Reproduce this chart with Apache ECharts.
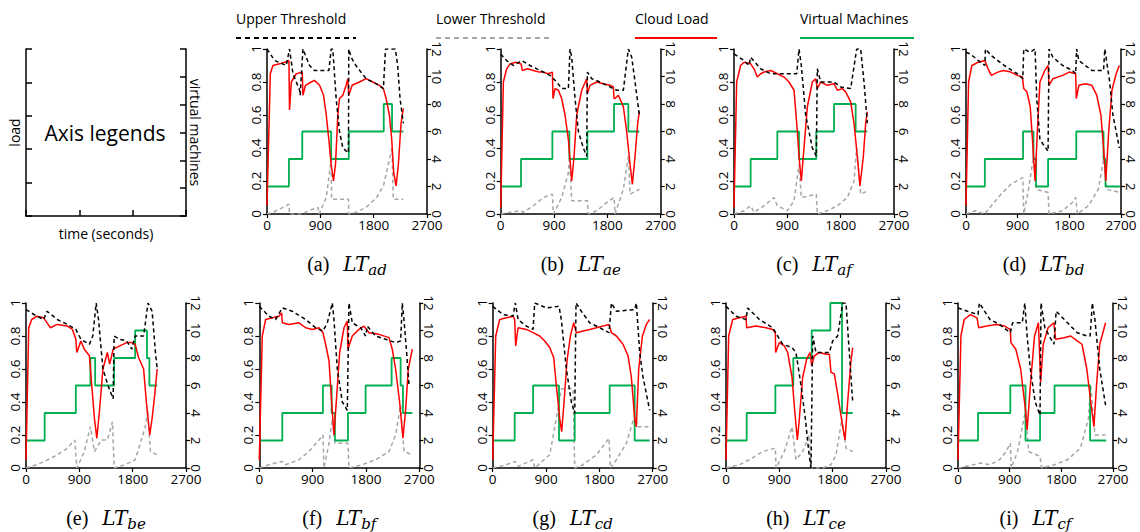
<!DOCTYPE html>
<html>
<head>
<meta charset="utf-8">
<script src="https://cdn.jsdelivr.net/npm/echarts@6/dist/echarts.min.js"></script>
<style>
  html, body { margin: 0; background: #fff; }
  #chart { width: 1140px; height: 532px; }
</style>
</head>
<body>
<div id="chart"></div>
<script>
// time (s) / value pairs; load and thresholds on 0..1, vms on 0..12
const loadAD = [[0,0.05],[56,0.85],[100,0.9],[210,0.91],[300,0.92],[370,0.93],[380,0.63],[410,0.8],[494,0.85],[595,0.86],[606,0.72],[650,0.78],[746,0.8],[800,0.81],[887,0.78],[954,0.72],[1000,0.6],[1044,0.45],[1083,0.3],[1122,0.2],[1156,0.3],[1195,0.6],[1223,0.7],[1280,0.72],[1335,0.78],[1364,0.82],[1380,0.72],[1437,0.78],[1560,0.8],[1672,0.82],[1785,0.8],[1897,0.78],[1964,0.76],[2010,0.7],[2065,0.6],[2105,0.45],[2138,0.25],[2178,0.17],[2217,0.3],[2262,0.55],[2300,0.64]];
const upperAD = [[0,1],[130,0.93],[325,0.9],[380,1],[438,0.85],[550,0.75],[560,0.72],[606,1],[718,0.9],[800,0.87],[1044,0.87],[1083,1],[1110,1],[1167,0.7],[1223,0.5],[1280,0.4],[1375,0.37],[1380,1],[1420,0.95],[1500,0.9],[1672,0.82],[1840,0.79],[1964,0.76],[2000,1],[2166,1],[2205,0.9],[2245,0.7],[2300,0.55]];
const lowerAD = [[0,0],[100,0.01],[325,0.05],[370,0.06],[380,0],[600,0],[700,0.02],[860,0.04],[880,0],[1000,0.1],[1083,0.33],[1090,0.09],[1375,0.09],[1380,0],[1500,0.01],[1672,0.04],[1850,0.1],[1964,0.17],[2110,0.4],[2130,0.09],[2300,0.09]];
const vmsAD = [[0,2],[370,4],[595,6],[1083,4],[1380,6],[1970,8],[2110,6],[2300,6]];

const loadAE = [[0,0.04],[45,0.8],[101,0.88],[158,0.91],[250,0.92],[343,0.91],[365,0.87],[450,0.88],[551,0.87],[650,0.86],[720,0.86],[800,0.85],[872,0.86],[883,0.7],[917,0.76],[973,0.75],[1029,0.7],[1086,0.6],[1142,0.45],[1198,0.2],[1238,0.35],[1283,0.6],[1367,0.75],[1451,0.82],[1463,0.73],[1508,0.78],[1620,0.8],[1733,0.79],[1850,0.78],[1901,0.77],[1913,0.7],[1929,0.7],[1986,0.72],[2070,0.65],[2126,0.5],[2183,0.3],[2222,0.18],[2267,0.35],[2312,0.55],[2340,0.62]];
const upperAE = [[0,0.97],[101,0.93],[214,0.9],[354,0.93],[495,0.9],[664,0.87],[833,0.84],[945,0.8],[1029,0.76],[1142,0.76],[1170,1],[1198,0.95],[1254,0.7],[1311,0.5],[1395,0.4],[1451,0.35],[1463,0.86],[1536,0.82],[1676,0.8],[1845,0.77],[1958,0.75],[2070,0.75],[2154,1],[2211,0.95],[2267,0.8],[2340,0.6]];
const lowerAE = [[0,0],[158,0.01],[343,0.02],[380,0.01],[551,0.05],[720,0.1],[872,0.12],[890,0],[1029,0.1],[1142,0.25],[1159,0.35],[1198,0.08],[1463,0.08],[1480,0],[1620,0.02],[1790,0.07],[1913,0.1],[1930,0],[2070,0.15],[2154,0.35],[2183,0.12],[2340,0.15]];
const vmsAE = [[0,2],[343,4],[872,6],[1159,4],[1463,6],[1913,8],[2154,6],[2340,6]];

const loadAF = [[0,0.04],[45,0.8],[112,0.9],[170,0.92],[281,0.91],[338,0.88],[394,0.83],[450,0.85],[506,0.86],[619,0.87],[731,0.85],[844,0.83],[928,0.8],[1013,0.75],[1058,0.55],[1097,0.35],[1136,0.2],[1181,0.4],[1238,0.65],[1322,0.8],[1378,0.82],[1406,0.76],[1463,0.8],[1575,0.78],[1688,0.79],[1744,0.75],[1828,0.76],[1884,0.74],[1969,0.68],[2025,0.55],[2081,0.35],[2126,0.17],[2183,0.35],[2222,0.55],[2250,0.62]];
const upperAF = [[0,0.97],[170,0.93],[253,0.9],[281,0.95],[450,0.88],[619,0.85],[1058,0.85],[1097,1],[1136,0.9],[1209,0.6],[1322,0.4],[1389,0.35],[1406,0.88],[1463,0.8],[1688,0.8],[1800,0.77],[1969,0.76],[2070,1],[2137,1],[2194,0.8],[2250,0.55]];
const lowerAF = [[0,0],[170,0.02],[281,0.05],[338,0.01],[506,0.05],[675,0.1],[731,0.05],[900,0.02],[1013,0.08],[1097,0.3],[1136,0.1],[1389,0.12],[1406,0],[1575,0.02],[1744,0.05],[1913,0.1],[2025,0.2],[2070,0.4],[2137,0.12],[2250,0.14]];
const vmsAF = [[0,2],[281,4],[731,6],[1097,4],[1389,6],[1688,8],[2053,6],[2250,6]];

const loadBD = [[0,0.05],[45,0.8],[102,0.9],[215,0.92],[328,0.93],[384,0.88],[441,0.84],[554,0.86],[650,0.87],[780,0.86],[893,0.84],[983,0.83],[1006,0.76],[1062,0.74],[1119,0.65],[1158,0.45],[1203,0.2],[1243,0.5],[1288,0.8],[1373,0.87],[1430,0.9],[1446,0.78],[1514,0.82],[1684,0.84],[1797,0.86],[1910,0.85],[1921,0.7],[1966,0.78],[2079,0.79],[2192,0.78],[2277,0.72],[2350,0.6],[2396,0.4],[2435,0.2],[2486,0.5],[2542,0.75],[2616,0.85],[2672,0.9]];
const upperBD = [[0,0.98],[73,0.97],[215,0.93],[328,0.9],[339,1],[441,0.96],[667,0.9],[893,0.85],[989,0.82],[1006,1],[1119,0.98],[1203,1],[1232,0.7],[1288,0.45],[1430,0.38],[1446,1],[1514,0.95],[1684,0.9],[1853,0.87],[1910,0.85],[1927,1],[1966,0.93],[2079,0.9],[2192,0.87],[2396,0.87],[2418,1],[2503,0.8],[2559,0.6],[2672,0.4]];
const lowerBD = [[0,0],[158,0.02],[328,0],[441,0.05],[610,0.12],[780,0.18],[989,0.22],[1006,0],[1090,0.15],[1175,0.35],[1220,0.15],[1430,0.13],[1446,0],[1684,0.02],[1853,0.07],[1910,0.1],[1940,0],[2130,0.05],[2305,0.15],[2407,0.35],[2446,0.15],[2700,0.13]];
const vmsBD = [[0,2],[328,4],[994,6],[1175,4],[1220,2],[1430,4],[1921,6],[2396,4],[2430,2],[2680,2]];

const loadBE = [[0,0.05],[46,0.85],[97,0.9],[183,0.92],[298,0.91],[355,0.88],[412,0.85],[526,0.87],[698,0.86],[784,0.84],[841,0.78],[858,0.7],[927,0.77],[984,0.72],[1070,0.68],[1110,0.5],[1155,0.3],[1195,0.18],[1241,0.35],[1298,0.6],[1373,0.7],[1413,0.63],[1470,0.72],[1584,0.74],[1699,0.76],[1785,0.76],[1842,0.75],[1899,0.67],[1985,0.6],[2031,0.4],[2088,0.2],[2128,0.3],[2174,0.45],[2214,0.6]];
const upperBE = [[0,0.96],[183,0.92],[298,0.9],[355,0.95],[526,0.9],[698,0.87],[841,0.84],[927,0.78],[1070,0.75],[1127,0.8],[1184,1],[1224,0.9],[1298,0.6],[1384,0.5],[1470,0.42],[1487,0.8],[1584,0.78],[1699,0.77],[1785,0.72],[1842,0.8],[1985,0.8],[2059,1],[2128,0.95],[2185,0.7],[2214,0.6]];
const lowerBE = [[0,0],[183,0.02],[315,0.04],[526,0.08],[698,0.12],[824,0.17],[858,0],[984,0.1],[1087,0.25],[1155,0.1],[1270,0.17],[1373,0.17],[1459,0.28],[1487,0],[1670,0.02],[1842,0.05],[2014,0.25],[2054,0.35],[2100,0.1],[2214,0.08]];
const vmsBE = [[0,2],[315,4],[841,6],[1087,8],[1167,6],[1487,8],[1842,10],[2042,8],[2082,6],[2214,6]];

const loadBF = [[0,0.05],[50,0.8],[107,0.9],[219,0.91],[332,0.92],[377,0.94],[388,0.88],[500,0.87],[669,0.88],[782,0.85],[894,0.84],[1007,0.85],[1074,0.82],[1119,0.75],[1176,0.65],[1221,0.4],[1260,0.2],[1299,0.4],[1356,0.7],[1429,0.85],[1485,0.89],[1496,0.72],[1569,0.8],[1682,0.84],[1766,0.86],[1850,0.82],[2019,0.81],[2188,0.79],[2244,0.72],[2300,0.6],[2368,0.4],[2424,0.18],[2469,0.35],[2514,0.6],[2582,0.72]];
const upperBF = [[0,0.98],[163,0.92],[275,0.9],[388,0.97],[557,0.95],[782,0.9],[951,0.85],[1074,0.83],[1148,0.88],[1232,1],[1260,0.9],[1316,0.6],[1401,0.4],[1485,0.35],[1513,1],[1569,0.88],[1710,0.85],[1794,0.8],[1822,0.86],[1963,0.8],[2132,0.78],[2300,0.76],[2385,0.77],[2413,1],[2441,0.9],[2486,0.7],[2526,0.5]];
const lowerBF = [[0,0],[163,0.02],[388,0.04],[444,0.02],[669,0.05],[838,0.1],[1007,0.17],[1074,0.2],[1091,0],[1176,0.15],[1232,0.3],[1277,0.15],[1496,0.15],[1513,0],[1738,0.02],[1963,0.05],[2188,0.1],[2300,0.2],[2385,0.38],[2441,0.1],[2582,0.08]];
const vmsBF = [[0,2],[388,4],[1074,6],[1221,4],[1277,2],[1496,4],[1794,6],[2233,8],[2385,6],[2424,4],[2582,4]];

const loadCD = [[0,0.05],[51,0.8],[118,0.9],[231,0.91],[343,0.92],[371,0.9],[388,0.74],[428,0.85],[568,0.84],[681,0.82],[793,0.8],[878,0.77],[962,0.73],[1029,0.67],[1074,0.5],[1131,0.3],[1164,0.22],[1204,0.4],[1254,0.65],[1311,0.8],[1367,0.88],[1412,0.82],[1524,0.83],[1637,0.84],[1749,0.85],[1862,0.86],[1963,0.87],[2003,0.82],[2087,0.8],[2199,0.75],[2284,0.68],[2340,0.55],[2396,0.3],[2424,0.25],[2464,0.6],[2526,0.8],[2593,0.87],[2649,0.9]];
const upperCD = [[0,0.98],[174,0.93],[343,0.92],[382,1],[428,0.9],[568,0.86],[681,0.84],[709,1],[906,0.97],[1119,0.98],[1158,0.9],[1243,0.6],[1327,0.4],[1384,0.33],[1406,1],[1496,0.95],[1637,0.88],[1806,0.85],[1963,0.82],[2003,1],[2087,0.95],[2396,0.96],[2424,1],[2481,0.7],[2537,0.55],[2649,0.35]];
const lowerCD = [[0,0],[231,0.02],[371,0.04],[428,0.01],[681,0.05],[709,0],[962,0.08],[1074,0.3],[1158,0.48],[1356,0.48],[1384,0],[1524,0.02],[1749,0.08],[1963,0.18],[1985,0],[2087,0.05],[2256,0.15],[2396,0.32],[2453,0.25],[2649,0.25]];
const vmsCD = [[0,2],[371,4],[681,6],[1119,2],[1384,4],[1974,6],[2396,2],[2649,2]];

const loadCE = [[0,0.05],[45,0.8],[113,0.9],[225,0.91],[338,0.92],[349,0.85],[506,0.86],[675,0.85],[788,0.84],[833,0.82],[838,0.7],[900,0.76],[984,0.74],[1041,0.7],[1114,0.55],[1159,0.35],[1204,0.17],[1238,0.3],[1294,0.55],[1362,0.66],[1418,0.7],[1446,0.62],[1491,0.68],[1575,0.7],[1688,0.69],[1744,0.69],[1772,0.58],[1828,0.57],[1884,0.45],[1969,0.25],[2008,0.17],[2053,0.4],[2109,0.65],[2138,0.73]];
const upperCE = [[0,0.98],[169,0.92],[338,0.9],[366,0.97],[563,0.9],[788,0.85],[872,0.8],[956,0.75],[1114,0.73],[1181,0.7],[1266,0.5],[1339,0.3],[1396,0.1],[1434,0],[1463,0.8],[1519,0.7],[1744,0.7],[1800,0.77],[1884,0.8],[1969,1],[2025,1],[2081,0.7],[2138,0.4]];
const lowerCE = [[0,0],[225,0.02],[394,0.05],[619,0.1],[833,0.12],[844,0],[984,0.1],[1114,0.25],[1181,0.05],[1294,0.1],[1406,0.2],[1440,0],[1632,0],[1772,0.02],[1856,0.08],[1958,0.3],[2025,0.12],[2138,0.1]];
const vmsCE = [[0,2],[349,4],[833,6],[1136,8],[1446,10],[1761,12],[1958,4],[2138,4]];

const loadCF = [[0,0.05],[51,0.8],[107,0.9],[219,0.93],[332,0.91],[360,0.85],[500,0.86],[669,0.87],[810,0.86],[911,0.84],[922,0.76],[1007,0.72],[1091,0.6],[1176,0.35],[1204,0.23],[1260,0.5],[1333,0.8],[1401,0.88],[1440,0.52],[1485,0.75],[1569,0.85],[1671,0.88],[1699,0.78],[1851,0.79],[1963,0.8],[2076,0.77],[2160,0.75],[2244,0.6],[2312,0.4],[2368,0.25],[2413,0.5],[2469,0.75],[2571,0.88]];
const upperCF = [[0,0.97],[163,0.95],[349,0.93],[372,1],[557,0.9],[725,0.87],[911,0.82],[950,0.88],[1119,0.88],[1164,1],[1204,0.8],[1260,0.6],[1344,0.4],[1429,0.32],[1446,1],[1513,0.85],[1671,0.75],[1710,0.95],[1907,0.88],[2076,0.82],[2244,0.8],[2301,0.8],[2340,1],[2385,0.9],[2469,0.6],[2571,0.38]];
const lowerCF = [[0,0],[275,0.02],[388,0.03],[557,0.02],[725,0.05],[838,0.1],[911,0.15],[928,0],[1038,0.1],[1176,0.35],[1232,0.1],[1429,0.07],[1457,0],[1682,0.02],[1907,0.05],[2132,0.12],[2273,0.3],[2312,0.5],[2385,0.2],[2571,0.2]];
const vmsCF = [[0,2],[349,4],[911,6],[1176,2],[1429,4],[1682,6],[2301,2],[2582,2]];

const seriesNames = ['Upper Threshold', 'Lower Threshold', 'Cloud Load', 'Virtual Machines'];
const panelTags = ['(a)', '(b)', '(c)', '(d)', '(e)', '(f)', '(g)', '(h)', '(i)'];
const panelSubs = ['ad', 'ae', 'af', 'bd', 'be', 'bf', 'cd', 'ce', 'cf'];
const panelData = [
  [loadAD, upperAD, lowerAD, vmsAD], [loadAE, upperAE, lowerAE, vmsAE], [loadAF, upperAF, lowerAF, vmsAF],
  [loadBD, upperBD, lowerBD, vmsBD], [loadBE, upperBE, lowerBE, vmsBE], [loadBF, upperBF, lowerBF, vmsBF],
  [loadCD, upperCD, lowerCD, vmsCD], [loadCE, upperCE, lowerCE, vmsCE], [loadCF, upperCF, lowerCF, vmsCF],
];

// layout: [left, top, width] of each panel; the last column is a bit narrower so its labels stay on the page
const FONT = 'Open Sans';
const H = 165;
const slots = [
  [267, 49, 160], [500.7, 49, 160], [734, 49, 160], [966, 49, 155],
  [26, 303, 160], [259.3, 303, 160], [492.7, 303, 160], [726, 303, 160], [958, 303, 155],
];
const C = { upper: '#000000', lower: '#a6a6a6', load: '#ff0000', vms: '#00b050' };

const axisLine = { show: true, lineStyle: { color: '#000', width: 1.5 } };
const label = { color: '#000', fontFamily: FONT, fontSize: 13.5, formatter: (v) => String(v) };

const grid = [{ left: 26, top: 49, width: 160, height: 167 }];
const xAxis = [{
  gridIndex: 0, type: 'value', min: 0, max: 2700, interval: 900,
  axisLine, axisTick: { inside: true, length: 6, lineStyle: { width: 1.5 } },
  axisLabel: { show: false }, splitLine: { show: false },
  name: 'time (seconds)', nameLocation: 'middle', nameGap: 10,
  nameTextStyle: { color: '#000', fontFamily: FONT, fontSize: 14 },
}];
const yAxis = [
  {
    gridIndex: 0, type: 'value', min: 0, max: 1, interval: 0.2, position: 'left',
    axisLine, axisTick: { inside: true, length: 6, lineStyle: { width: 1.5 } },
    axisLabel: { show: false }, splitLine: { show: false },
    name: 'load', nameLocation: 'middle', nameRotate: 90, nameGap: 5,
    nameTextStyle: { color: '#000', fontFamily: FONT, fontSize: 14 },
  },
  {
    gridIndex: 0, type: 'value', min: 0, max: 12, interval: 2, position: 'right',
    axisLine, axisTick: { inside: true, length: 6, lineStyle: { width: 1.5 } },
    axisLabel: { show: false }, splitLine: { show: false },
    name: 'virtual machines', nameLocation: 'middle', nameRotate: -90, nameGap: 2,
    nameTextStyle: { color: '#000', fontFamily: FONT, fontSize: 14 },
  },
];
const series = [];
const graphic = [
  { type: 'text', x: 105, y: 133, style: { text: 'Axis legends', fill: '#000', font: '21px "Open Sans"', align: 'center', verticalAlign: 'middle' } },
];

// legend across the top: label above a sample line
const legendItems = [
  { x: 236, w: 120, color: C.upper, dash: [5, 4] },
  { x: 436, w: 117, color: C.lower, dash: [5, 4] },
  { x: 635, w: 82, color: C.load, dash: null },
  { x: 800, w: 114, color: C.vms, dash: null },
];
legendItems.forEach((it, k) => {
  graphic.push({ type: 'text', x: it.x, y: 18, style: { text: seriesNames[k], fill: '#000', font: '14px "Open Sans"', align: 'left', verticalAlign: 'middle' } });
  graphic.push({ type: 'line', shape: { x1: it.x, y1: 38, x2: it.x + it.w, y2: 38 }, style: { stroke: it.color, lineWidth: 2, lineDash: it.dash } });
});

const rich = {
  n: { fontFamily: 'Liberation Serif', fontSize: 20, lineHeight: 26, padding: [0, 14, 0, 0], color: '#000' },
  it: { fontFamily: 'DejaVu Serif', fontStyle: 'italic', fontSize: 20, lineHeight: 26, color: '#000' },
  sub: { fontFamily: 'DejaVu Serif', fontStyle: 'italic', fontSize: 15, verticalAlign: 'bottom', color: '#000' },
};

panelData.forEach((d, k) => {
  const [left, top, W] = slots[k];
  const g = k + 1;
  grid.push({ left, top, width: W, height: H });
  xAxis.push({
    gridIndex: g, type: 'value', min: 0, max: 2700, interval: 900,
    axisLine, axisTick: { length: 4, lineStyle: { width: 1.2 } },
    axisLabel: { ...label, margin: 4 }, splitLine: { show: false },
  });
  yAxis.push({
    gridIndex: g, type: 'value', min: 0, max: 1, interval: 0.2, position: 'left',
    axisLine, axisTick: { length: 4, lineStyle: { width: 1.2 } },
    axisLabel: { ...label, rotate: 90, margin: 4 }, splitLine: { show: false },
  });
  yAxis.push({
    gridIndex: g, type: 'value', min: 0, max: 12, interval: 2, position: 'right',
    axisLine, axisTick: { length: 4, lineStyle: { width: 1.2 } },
    axisLabel: { ...label, rotate: -90, margin: 3 }, splitLine: { show: false },
  });
  const [load, upper, lower, vms] = d;
  const common = { type: 'line', xAxisIndex: g, symbol: 'none', silent: true };
  series.push(
    { ...common, name: seriesNames[1], yAxisIndex: 2 * g, data: lower, lineStyle: { color: C.lower, width: 1.5, type: [4, 3] } },
    { ...common, name: seriesNames[3], yAxisIndex: 2 * g + 1, step: 'end', data: vms, lineStyle: { color: C.vms, width: 1.8 } },
    { ...common, name: seriesNames[2], yAxisIndex: 2 * g, data: load, lineStyle: { color: C.load, width: 1.5 } },
    { ...common, name: seriesNames[0], yAxisIndex: 2 * g, data: upper, lineStyle: { color: C.upper, width: 1.5, type: [4, 3] } },
  );
  graphic.push({
    type: 'text', x: left + W / 2, y: top + 215,
    style: { text: `{n|${panelTags[k]}}{it|LT}{sub|${panelSubs[k]}}`, rich, align: 'center', verticalAlign: 'middle' },
  });
});

const chart = echarts.init(document.getElementById('chart'), null, { renderer: 'svg' });
chart.setOption({
  animation: false,
  backgroundColor: '#fff',
  grid, xAxis, yAxis, series, graphic,
});
</script>
</body>
</html>
